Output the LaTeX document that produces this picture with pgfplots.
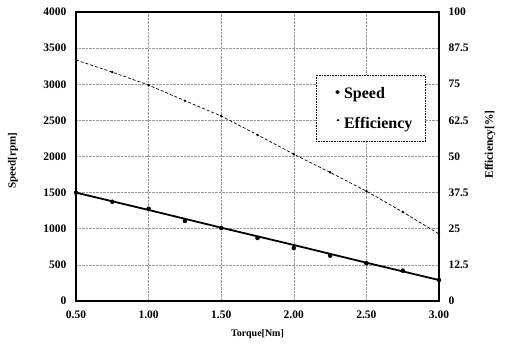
\documentclass[border=0pt]{standalone}
\usepackage{pgfplots}
\pgfplotsset{compat=1.18}
\usepackage{fontspec}
\setmainfont{Liberation Serif}
\begin{document}
\begin{tikzpicture}[x=1pt,y=1pt]
\useasboundingbox (0,0) rectangle (506,348);
\pgfplotsset{
  common/.style={
    at={(76pt,47pt)}, anchor=south west,
    scale only axis, width=363pt, height=289pt,
    xmin=0.5, xmax=3,
    major tick length=0pt,
    tick label style={font=\fontsize{11.5}{12}\selectfont\bfseries},
  }
}
\begin{axis}[common,
  ymin=0, ymax=4000,
  xtick={0.5,1,1.5,2,2.5,3},
  xticklabels={0.50,1.00,1.50,2.00,2.50,3.00},
  ytick={0,500,1000,1500,2000,2500,3000,3500,4000},
  yticklabels={0,500,1000,1500,2000,2500,3000,3500,4000},
  xticklabel style={yshift=-6pt},
  yticklabel style={xshift=-6pt},
  xmajorgrids, ymajorgrids,
  grid style={densely dotted, gray!80, line width=0.6pt},
  axis line style={line width=1.5pt},
  xlabel={Torque[Nm]},
  ylabel={Speed[rpm]},
  every axis x label/.style={at={(rel axis cs:0.5,0)}, yshift=-33pt, anchor=center,
    font=\fontsize{10}{12}\selectfont\bfseries},
  every axis y label/.style={at={(rel axis cs:0,0.5)}, xshift=-63pt, yshift=-4pt, rotate=90, anchor=center,
    font=\fontsize{11}{12}\selectfont\bfseries},
]
\addplot[black, line width=1.8pt] coordinates {
(0.5,1500) (1.0,1260) (1.5,1015) (2.0,775) (2.5,530) (3.0,290)};
\addplot[only marks, mark=*, mark size=2pt, black] coordinates {
(0.5,1500) (0.75,1374) (1.0,1277) (1.25,1107) (1.5,1010) (1.75,872)
(2.0,733) (2.25,627) (2.5,522) (2.75,420) (3.0,290)};
\end{axis}
\begin{axis}[common,
  ymin=0, ymax=100,
  axis x line=none,
  axis y line*=right,
  ytick={0,12.5,25,37.5,50,62.5,75,87.5,100},
  yticklabels={0,12.5,25,37.5,50,62.5,75,87.5,100},
  yticklabel style={xshift=6pt},
  axis line style={line width=1.5pt},
  ylabel={Efficiency[\%]},
  every axis y label/.style={at={(rel axis cs:1,0.5)}, xshift=51pt, yshift=12pt, rotate=90, anchor=center,
    font=\fontsize{11.5}{12}\selectfont\bfseries},
  legend style={at={(rel axis cs:0.661,0.782)}, anchor=north west,
    draw=black, densely dotted, line width=0.6pt,
    font=\fontsize{16}{18}\selectfont\bfseries,
    inner xsep=11pt, inner ysep=10pt, row sep=13pt},
  legend cell align=left,
]
\addlegendimage{legend image code/.code={\path[draw=none,fill=none] (0,0) -- (0.52cm,0); \fill[black] (0.36cm,0.05cm) circle (1.8pt);}}
\addlegendentry{Speed}
\addplot[black, line width=0.7pt, dash pattern=on 3pt off 2pt, mark=*, mark size=0.8pt,
  mark options={solid},
  legend image code/.code={\path[draw=none,fill=none] (0,0) -- (0.52cm,0); \fill[black] (0.38cm,0.1cm) circle (0.9pt);}] coordinates {
(0.5,83.4) (0.75,79.2) (1.0,74.7) (1.25,69.3) (1.5,64.0) (1.75,57.5)
(2.0,50.8) (2.25,44.5) (2.5,38.0) (2.75,30.8) (3.0,23.2)};
\addlegendentry{Efficiency}
\end{axis}
\end{tikzpicture}
\end{document}
